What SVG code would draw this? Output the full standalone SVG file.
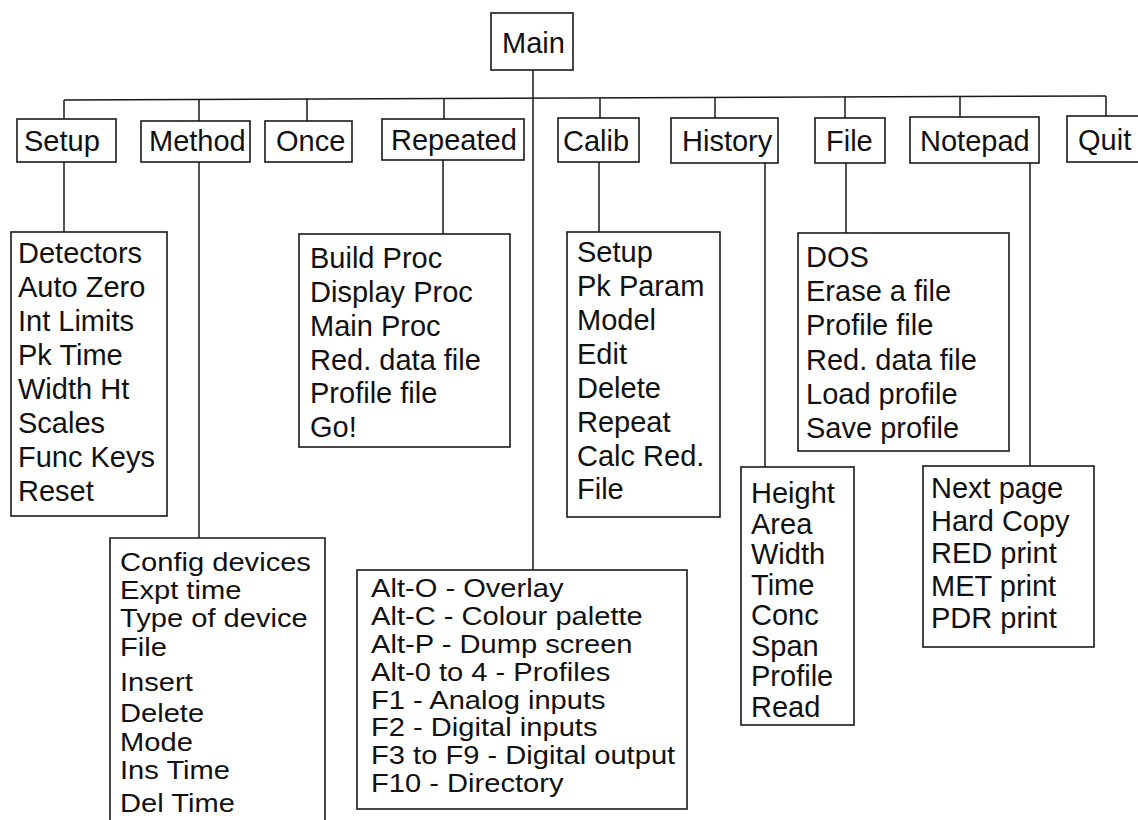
<svg xmlns="http://www.w3.org/2000/svg" width="1138" height="820" viewBox="0 0 1138 820">
<style>
.box{fill:#fff;stroke:#1a1a1a;stroke-width:1.6}
.ln{stroke:#1a1a1a;stroke-width:1.5;fill:none}
text{font-family:"Liberation Sans",Arial,Helvetica,sans-serif;font-size:29px;fill:#111}
text.tight{font-size:26px}
</style>
<rect width="1138" height="820" fill="#fff"/>
<g id="connectors">
<path class="ln" d="M64,100 L1106,96"/>
<path class="ln" d="M533,70 V570"/>
<path class="ln" d="M64,100 V119 M199,99.5 V122 M307,99 V121 M444,98.5 V119 M600,98 V118 M715,97.5 V118 M845,97 V118 M960,97 V117 M1106,96 V116"/>
<path class="ln" d="M64,162 V232 M199,162 V538 M443,160 V234 M599,162 V232 M765,163 V467 M846,163 V233 M1030,163 V466"/>
</g>
<g id="node-main"><rect class="box" x="491" y="13" width="82" height="57"/><text x="502" y="53">Main</text></g>
<g id="node-setup"><rect class="box" x="17" y="119" width="99" height="43"/><text x="24" y="151">Setup</text></g>
<g id="node-method"><rect class="box" x="141" y="121" width="109" height="41"/><text x="149" y="151">Method</text></g>
<g id="node-once"><rect class="box" x="265" y="121" width="87" height="41"/><text x="276" y="151">Once</text></g>
<g id="node-repeated"><rect class="box" x="382" y="119" width="142" height="41"/><text x="391" y="150">Repeated</text></g>
<g id="node-calib"><rect class="box" x="558" y="118" width="81" height="44"/><text x="563" y="151">Calib</text></g>
<g id="node-history"><rect class="box" x="671" y="118" width="107" height="45"/><text x="682" y="151">History</text></g>
<g id="node-file"><rect class="box" x="815" y="118" width="70" height="45"/><text x="826" y="151">File</text></g>
<g id="node-notepad"><rect class="box" x="910" y="117" width="129" height="46"/><text x="920" y="151">Notepad</text></g>
<g id="node-quit"><rect class="box" x="1067" y="116" width="80" height="46"/><text x="1078" y="150">Quit</text></g>
<g id="node-setup-menu"><rect class="box" x="11" y="232" width="156" height="284"/>
<text><tspan x="18" y="263">Detectors</tspan><tspan x="18" y="297">Auto Zero</tspan><tspan x="18" y="331">Int Limits</tspan><tspan x="18" y="365">Pk Time</tspan><tspan x="18" y="399">Width Ht</tspan><tspan x="18" y="433">Scales</tspan><tspan x="18" y="467">Func Keys</tspan><tspan x="18" y="501">Reset</tspan></text></g>
<g id="node-repeated-menu"><rect class="box" x="299" y="234" width="211" height="213"/>
<text><tspan x="310" y="268">Build Proc</tspan><tspan x="310" y="302">Display Proc</tspan><tspan x="310" y="336">Main Proc</tspan><tspan x="310" y="370">Red. data file</tspan><tspan x="310" y="403">Profile file</tspan><tspan x="310" y="437">Go!</tspan></text></g>
<g id="node-calib-menu"><rect class="box" x="567" y="232" width="153" height="285"/>
<text><tspan x="577" y="262">Setup</tspan><tspan x="577" y="296">Pk Param</tspan><tspan x="577" y="330">Model</tspan><tspan x="577" y="364">Edit</tspan><tspan x="577" y="398">Delete</tspan><tspan x="577" y="432">Repeat</tspan><tspan x="577" y="466">Calc Red.</tspan><tspan x="577" y="499">File</tspan></text></g>
<g id="node-file-menu"><rect class="box" x="798" y="233" width="211" height="218"/>
<text><tspan x="806" y="267">DOS</tspan><tspan x="806" y="301">Erase a file</tspan><tspan x="806" y="335">Profile file</tspan><tspan x="806" y="370">Red. data file</tspan><tspan x="806" y="404">Load profile</tspan><tspan x="806" y="438">Save profile</tspan></text></g>
<g id="node-history-menu"><rect class="box" x="741" y="467" width="113" height="258"/>
<text><tspan x="751" y="503">Height</tspan><tspan x="751" y="534">Area</tspan><tspan x="751" y="564">Width</tspan><tspan x="751" y="595">Time</tspan><tspan x="751" y="625">Conc</tspan><tspan x="751" y="656">Span</tspan><tspan x="751" y="686">Profile</tspan><tspan x="751" y="717">Read</tspan></text></g>
<g id="node-notepad-menu"><rect class="box" x="923" y="466" width="171" height="181"/>
<text><tspan x="931" y="498">Next page</tspan><tspan x="931" y="531">Hard Copy</tspan><tspan x="931" y="563">RED print</tspan><tspan x="931" y="596">MET print</tspan><tspan x="931" y="628">PDR print</tspan></text></g>
<g id="node-method-menu"><path class="box" d="M110,825 V538 H325 V825"/>
<text class="tight" transform="translate(120 0) scale(1.12 1)"><tspan x="0" y="571">Config devices</tspan><tspan x="0" y="599">Expt time</tspan><tspan x="0" y="627">Type of device</tspan><tspan x="0" y="656">File</tspan><tspan x="0" y="691">Insert</tspan><tspan x="0" y="722">Delete</tspan><tspan x="0" y="751">Mode</tspan><tspan x="0" y="779">Ins Time</tspan><tspan x="0" y="812">Del Time</tspan></text></g>
<g id="node-keys"><rect class="box" x="357" y="570" width="330" height="239"/>
<text class="tight" transform="translate(371 0) scale(1.12 1)"><tspan x="0" y="597">Alt-O - Overlay</tspan><tspan x="0" y="625">Alt-C - Colour palette</tspan><tspan x="0" y="653">Alt-P - Dump screen</tspan><tspan x="0" y="681">Alt-0 to 4 - Profiles</tspan><tspan x="0" y="709">F1 - Analog inputs</tspan><tspan x="0" y="736">F2 - Digital inputs</tspan><tspan x="0" y="764">F3 to F9 - Digital output</tspan><tspan x="0" y="792">F10 - Directory</tspan></text></g>
</svg>
